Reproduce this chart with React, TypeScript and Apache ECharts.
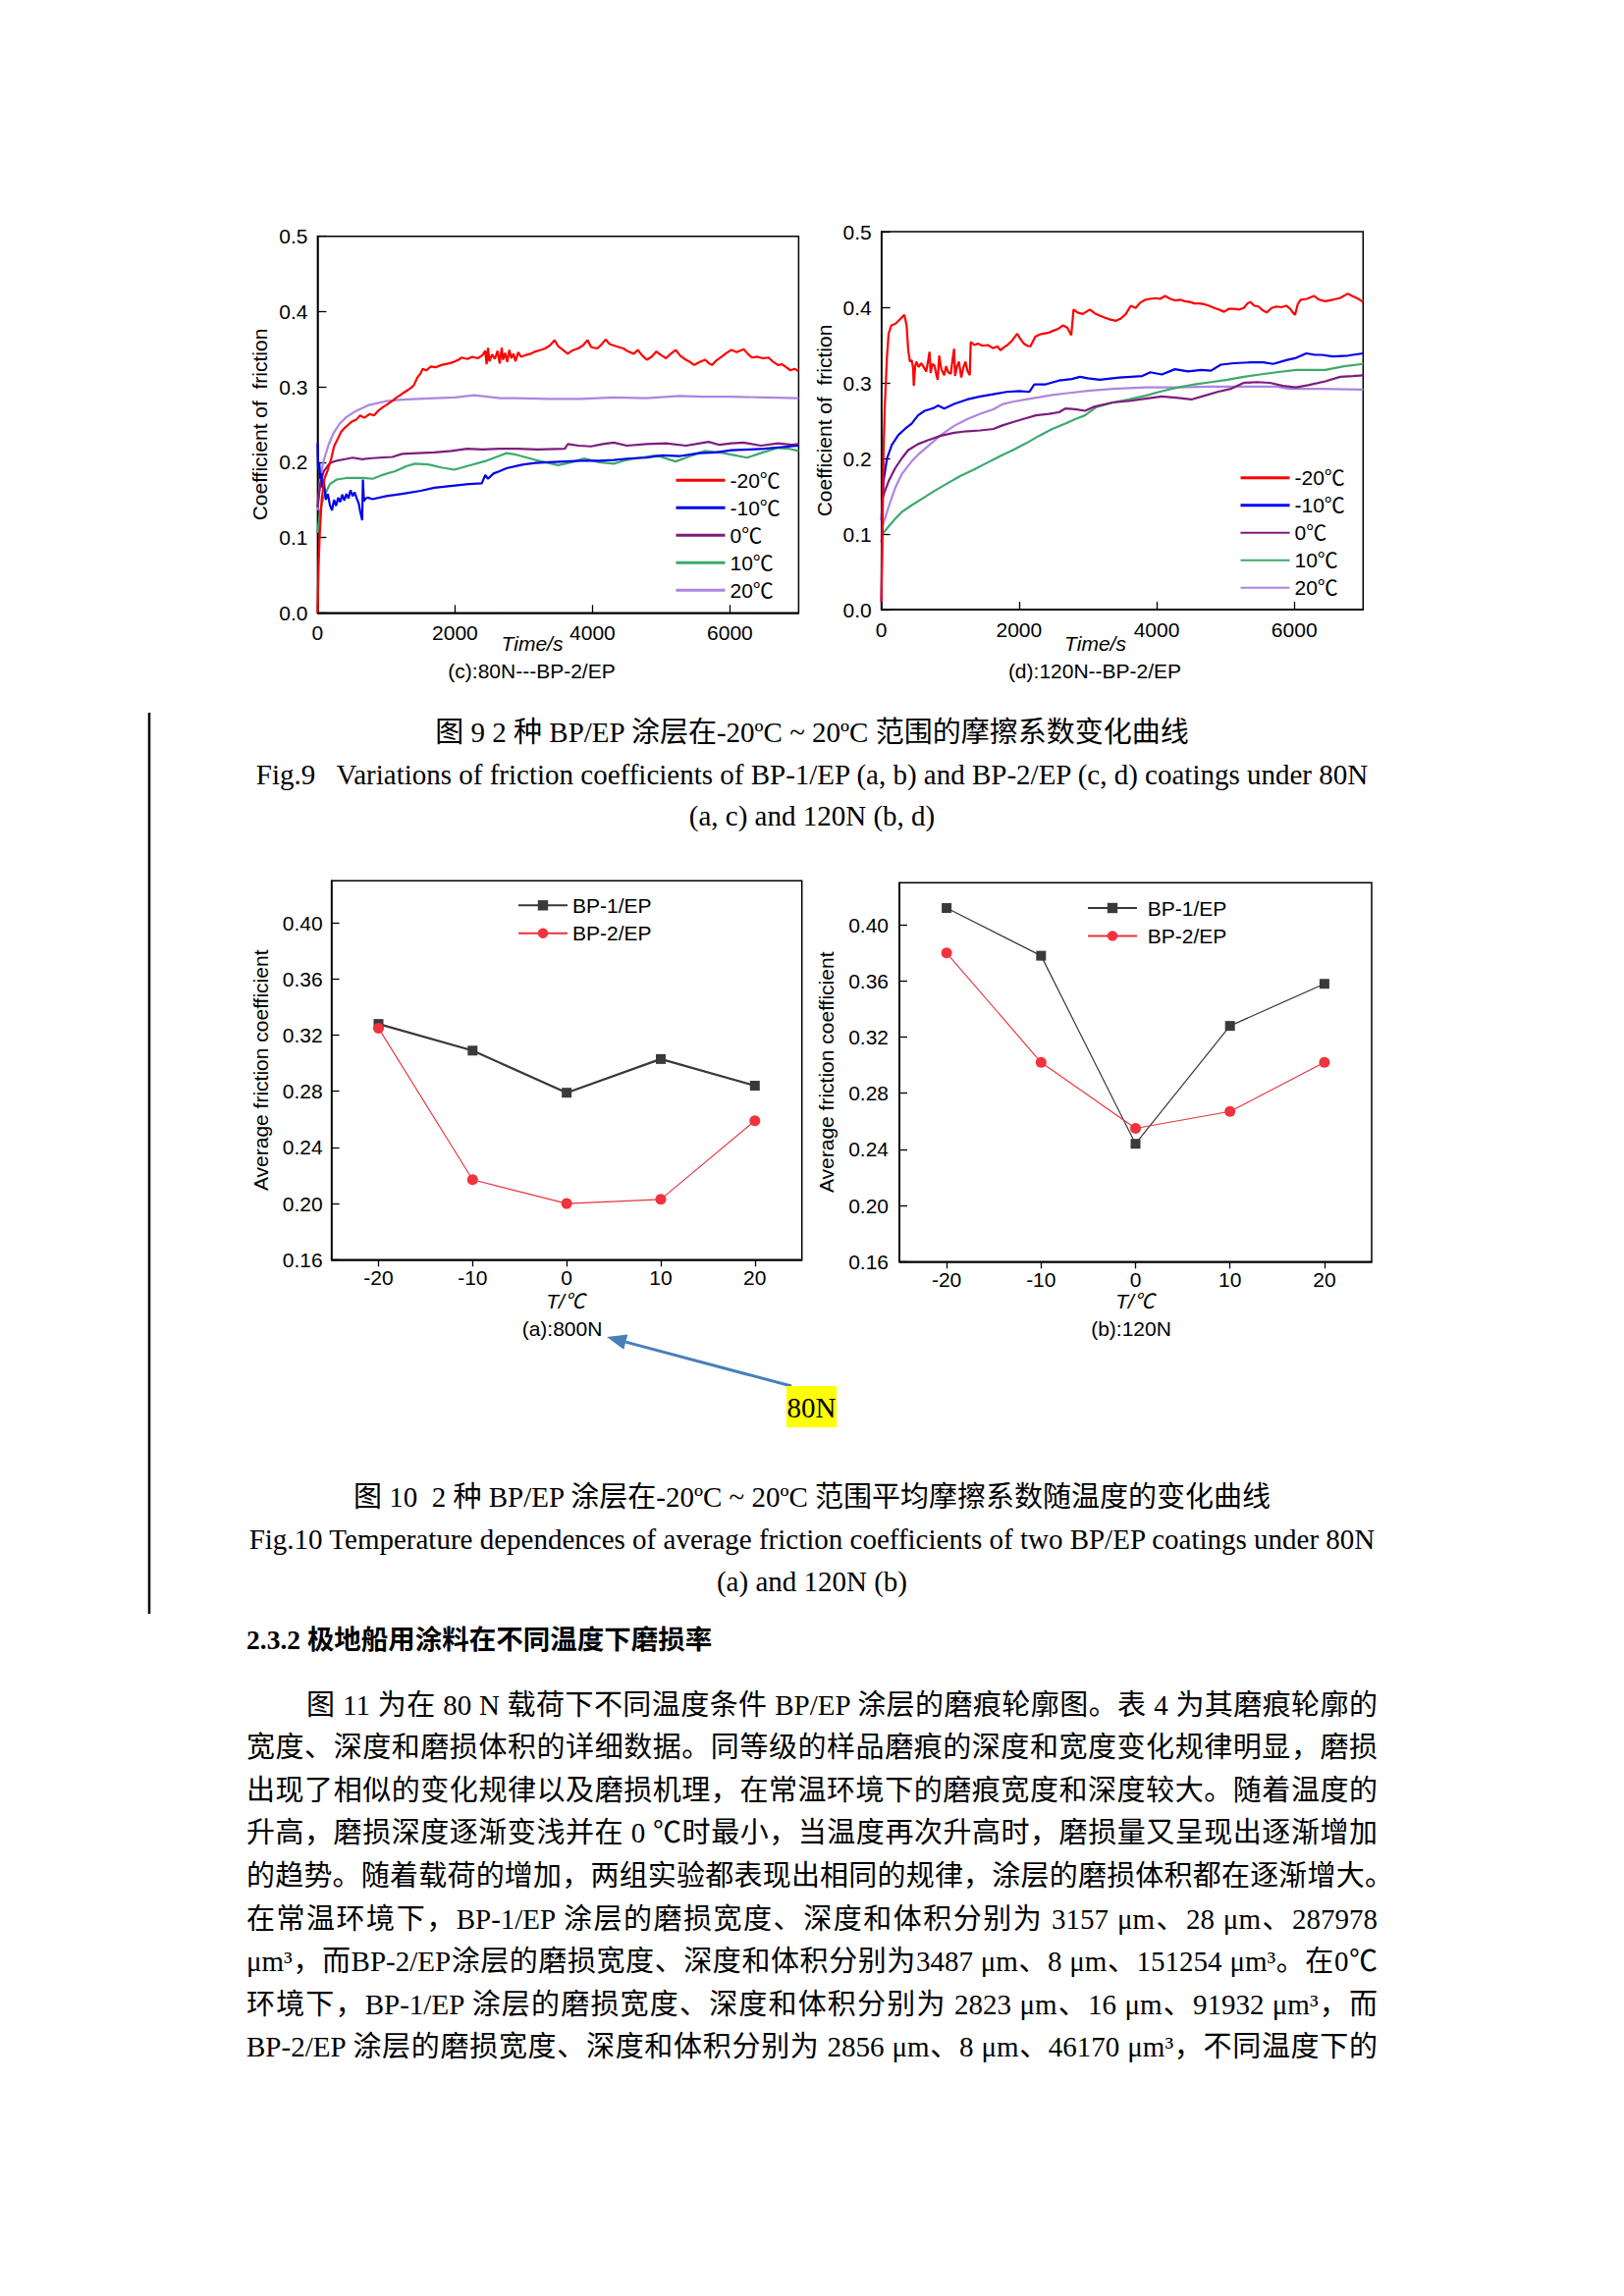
import React, { useEffect, useRef } from "react";
import * as echarts from "echarts";

// ---------------- DATA ----------------
const tempLabels = ["-20℃", "-10℃", "0℃", "10℃", "20℃"];

// (c) 80N BP-2/EP  [time s, coefficient]
const cM20 = [[0,0.0],[15,0.06],[30,0.1],[60,0.15],[100,0.178],[150,0.19],[200,0.205],[240,0.221],[300,0.232],[340,0.24],[400,0.246],[450,0.25],[500,0.254],[570,0.257],[620,0.262],[680,0.259],[760,0.264],[820,0.262],[880,0.268],[950,0.273],[1000,0.276],[1050,0.279],[1100,0.282],[1150,0.286],[1200,0.289],[1250,0.292],[1300,0.295],[1350,0.298],[1400,0.302],[1450,0.312],[1500,0.318],[1530,0.324],[1580,0.322],[1650,0.327],[1720,0.326],[1800,0.329],[1900,0.331],[1980,0.333],[2050,0.336],[2100,0.339],[2180,0.337],[2250,0.34],[2330,0.338],[2400,0.342],[2440,0.348],[2460,0.33],[2480,0.352],[2500,0.334],[2540,0.343],[2580,0.337],[2620,0.348],[2650,0.331],[2680,0.352],[2700,0.336],[2730,0.345],[2760,0.333],[2790,0.349],[2820,0.338],[2850,0.344],[2880,0.334],[2920,0.346],[2960,0.34],[3020,0.342],[3100,0.344],[3170,0.347],[3250,0.349],[3310,0.351],[3380,0.355],[3450,0.362],[3500,0.354],[3560,0.35],[3640,0.344],[3700,0.348],[3790,0.351],[3860,0.355],[3930,0.362],[3980,0.353],[4070,0.351],[4130,0.356],[4190,0.363],[4250,0.357],[4310,0.355],[4380,0.353],[4450,0.351],[4520,0.347],[4600,0.344],[4660,0.349],[4720,0.342],[4790,0.336],[4860,0.34],[4930,0.347],[5000,0.342],[5070,0.338],[5140,0.344],[5210,0.349],[5280,0.341],[5360,0.336],[5420,0.333],[5480,0.329],[5560,0.333],[5640,0.336],[5700,0.331],[5740,0.329],[5800,0.335],[5880,0.34],[5950,0.345],[6020,0.349],[6100,0.346],[6200,0.35],[6260,0.344],[6320,0.339],[6400,0.34],[6480,0.338],[6560,0.339],[6620,0.334],[6700,0.329],[6760,0.33],[6820,0.326],[6880,0.322],[6940,0.324],[7000,0.321]];
const cM10 = [[0,0.225],[10,0.19],[25,0.2],[40,0.178],[55,0.185],[70,0.166],[95,0.172],[120,0.15],[150,0.158],[180,0.143],[210,0.136],[240,0.15],[270,0.142],[300,0.153],[330,0.147],[360,0.157],[390,0.149],[420,0.158],[450,0.152],[480,0.163],[510,0.155],[540,0.16],[570,0.152],[600,0.145],[620,0.135],[650,0.123],[660,0.177],[675,0.148],[700,0.152],[730,0.153],[800,0.151],[1000,0.155],[1230,0.158],[1500,0.162],[1700,0.166],[2000,0.169],[2200,0.171],[2390,0.172],[2440,0.183],[2480,0.178],[2560,0.185],[2650,0.188],[2750,0.192],[2900,0.195],[3000,0.197],[3170,0.199],[3360,0.2],[3600,0.201],[3830,0.202],[4100,0.202],[4310,0.203],[4550,0.205],[4780,0.206],[5020,0.209],[5260,0.208],[5550,0.212],[5800,0.213],[6020,0.216],[6300,0.217],[6500,0.218],[6750,0.22],[7000,0.222]];
const c0 = [[0,0.14],[40,0.171],[90,0.188],[180,0.199],[280,0.202],[400,0.204],[510,0.206],[650,0.204],[750,0.205],[900,0.206],[1090,0.207],[1230,0.211],[1450,0.212],[1700,0.213],[1950,0.215],[2180,0.218],[2400,0.217],[2650,0.218],[2900,0.218],[3200,0.217],[3600,0.218],[3640,0.224],[3800,0.222],[3980,0.221],[4150,0.224],[4310,0.226],[4500,0.222],[4780,0.224],[5070,0.225],[5360,0.222],[5500,0.224],[5690,0.227],[5850,0.223],[6020,0.225],[6200,0.226],[6450,0.222],[6700,0.225],[6900,0.223],[7000,0.224]];
const c10 = [[0,0.106],[40,0.136],[85,0.153],[180,0.171],[280,0.177],[420,0.179],[660,0.179],[800,0.178],[940,0.183],[1130,0.188],[1300,0.195],[1420,0.198],[1610,0.197],[1800,0.193],[1990,0.19],[2180,0.195],[2460,0.202],[2750,0.212],[2890,0.21],[3170,0.203],[3500,0.196],[3700,0.2],[3880,0.205],[4100,0.2],[4310,0.198],[4500,0.203],[4690,0.206],[4930,0.209],[5210,0.201],[5420,0.208],[5640,0.215],[5850,0.213],[6020,0.21],[6250,0.206],[6480,0.213],[6700,0.219],[6850,0.218],[7000,0.215]];
const c20 = [[0,0.136],[40,0.179],[85,0.201],[160,0.223],[230,0.238],[320,0.251],[420,0.26],[560,0.268],[750,0.276],[990,0.281],[1230,0.283],[1700,0.285],[2000,0.286],[2280,0.289],[2660,0.285],[2880,0.285],[3360,0.284],[3830,0.284],[4310,0.286],[4780,0.285],[5260,0.288],[5600,0.287],[6020,0.287],[6500,0.286],[7000,0.285]];

// (d) 120N BP-2/EP
const dM20 = [[0,0.01],[15,0.1],[30,0.205],[47,0.265],[81,0.335],[105,0.365],[143,0.376],[200,0.378],[270,0.384],[333,0.39],[366,0.376],[390,0.343],[414,0.328],[440,0.33],[461,0.319],[470,0.296],[490,0.322],[509,0.328],[540,0.321],[580,0.326],[620,0.32],[651,0.315],[680,0.33],[699,0.341],[715,0.313],[740,0.325],[770,0.323],[800,0.31],[818,0.304],[840,0.336],[870,0.318],[913,0.31],[940,0.322],[970,0.314],[1008,0.312],[1030,0.328],[1056,0.345],[1070,0.309],[1100,0.322],[1127,0.328],[1160,0.307],[1190,0.32],[1222,0.328],[1250,0.316],[1284,0.31],[1298,0.354],[1350,0.35],[1403,0.352],[1470,0.349],[1546,0.35],[1620,0.346],[1688,0.348],[1730,0.343],[1780,0.347],[1831,0.35],[1900,0.356],[1974,0.365],[2020,0.358],[2069,0.352],[2120,0.349],[2164,0.348],[2236,0.361],[2300,0.364],[2354,0.365],[2420,0.366],[2497,0.369],[2560,0.371],[2640,0.376],[2700,0.373],[2759,0.363],[2792,0.397],[2850,0.393],[2925,0.391],[3029,0.397],[3100,0.392],[3171,0.389],[3250,0.386],[3314,0.384],[3409,0.382],[3480,0.385],[3552,0.391],[3623,0.402],[3694,0.399],[3760,0.406],[3837,0.41],[3900,0.411],[3980,0.412],[4050,0.411],[4123,0.415],[4200,0.411],[4266,0.409],[4340,0.41],[4408,0.408],[4480,0.407],[4551,0.405],[4620,0.405],[4694,0.404],[4760,0.402],[4837,0.399],[4900,0.397],[4980,0.394],[5050,0.398],[5122,0.398],[5200,0.397],[5265,0.399],[5320,0.405],[5360,0.407],[5420,0.402],[5479,0.401],[5540,0.396],[5598,0.393],[5670,0.399],[5741,0.401],[5810,0.4],[5884,0.402],[5940,0.398],[5979,0.393],[6011,0.39],[6050,0.404],[6093,0.41],[6180,0.411],[6285,0.415],[6360,0.41],[6449,0.408],[6559,0.41],[6660,0.412],[6778,0.418],[6840,0.415],[6888,0.413],[6950,0.41],[7000,0.407]];
const dM10 = [[0,0.01],[10,0.127],[30,0.17],[81,0.2],[152,0.218],[247,0.231],[342,0.239],[438,0.246],[533,0.257],[628,0.263],[700,0.265],[770,0.267],[820,0.27],[913,0.266],[1056,0.272],[1246,0.278],[1436,0.282],[1626,0.285],[1817,0.288],[2007,0.289],[2150,0.288],[2221,0.298],[2388,0.298],[2578,0.303],[2768,0.305],[2886,0.308],[3000,0.306],[3171,0.304],[3456,0.307],[3790,0.309],[3908,0.314],[4075,0.311],[4266,0.318],[4456,0.315],[4646,0.317],[4789,0.316],[4932,0.324],[5122,0.326],[5360,0.327],[5550,0.327],[5693,0.325],[5884,0.33],[6027,0.333],[6175,0.339],[6300,0.337],[6395,0.337],[6559,0.335],[6778,0.336],[7000,0.339]];
const d0 = [[0,0.118],[15,0.148],[105,0.17],[200,0.187],[295,0.2],[390,0.211],[533,0.219],[675,0.224],[865,0.23],[1056,0.234],[1246,0.236],[1436,0.237],[1626,0.239],[1769,0.244],[1912,0.248],[2055,0.252],[2245,0.257],[2435,0.259],[2578,0.261],[2673,0.266],[2816,0.265],[2958,0.263],[3076,0.268],[3362,0.274],[3599,0.276],[3837,0.279],[4075,0.282],[4313,0.28],[4503,0.278],[4694,0.283],[4884,0.288],[5074,0.292],[5265,0.3],[5455,0.301],[5646,0.3],[5836,0.296],[6027,0.294],[6200,0.297],[6449,0.302],[6668,0.308],[6850,0.309],[7000,0.31]];
const d10 = [[0,0.088],[15,0.1],[105,0.11],[200,0.12],[295,0.129],[438,0.138],[580,0.146],[770,0.157],[960,0.167],[1151,0.177],[1341,0.185],[1531,0.194],[1722,0.203],[1912,0.211],[2102,0.22],[2293,0.23],[2483,0.239],[2673,0.246],[2816,0.252],[2958,0.257],[3124,0.268],[3362,0.274],[3599,0.278],[3837,0.283],[4075,0.289],[4313,0.294],[4551,0.298],[4789,0.301],[5027,0.304],[5265,0.308],[5503,0.311],[5741,0.314],[6027,0.317],[6449,0.317],[6723,0.322],[7000,0.325]];
const d20 = [[0,0.09],[15,0.11],[105,0.136],[200,0.161],[295,0.179],[438,0.196],[533,0.205],[675,0.216],[865,0.231],[1056,0.243],[1246,0.252],[1436,0.259],[1626,0.265],[1769,0.272],[1912,0.275],[2102,0.278],[2293,0.281],[2483,0.284],[2673,0.286],[2958,0.289],[3362,0.292],[3837,0.294],[4313,0.294],[4789,0.295],[5265,0.295],[5741,0.295],[5931,0.292],[6400,0.292],[7000,0.291]];

// Fig.10 average friction coefficients
const temps = [-20, -10, 0, 10, 20];
const a80BP1 = [0.328, 0.309, 0.279, 0.303, 0.284];
const a80BP2 = [0.325, 0.217, 0.200, 0.203, 0.259];
const b120BP1 = [0.412, 0.378, 0.244, 0.328, 0.358];
const b120BP2 = [0.380, 0.302, 0.255, 0.267, 0.302];
const coatingNames = ["BP-1/EP", "BP-2/EP"];

const timeTicks = [0, 2000, 4000, 6000];
const tempTicks = [-20, -10, 0, 10, 20];
const avgTicks = [0.16, 0.2, 0.24, 0.28, 0.32, 0.36, 0.4];

// ---------------- TEXT ----------------
const fig9Caption = [
  "图 9 2 种 BP/EP 涂层在-20ºC ~ 20ºC 范围的摩擦系数变化曲线",
  "Fig.9   Variations of friction coefficients of BP-1/EP (a, b) and BP-2/EP (c, d) coatings under 80N",
  "(a, c) and 120N (b, d)",
];
const fig10Caption = [
  "图 10  2 种 BP/EP 涂层在-20ºC ~ 20ºC 范围平均摩擦系数随温度的变化曲线",
  "Fig.10 Temperature dependences of average friction coefficients of two BP/EP coatings under 80N",
  "(a) and 120N (b)",
];
const heading = "2.3.2 极地船用涂料在不同温度下磨损率";
const bodyLines = [
  "图 11 为在 80 N 载荷下不同温度条件 BP/EP 涂层的磨痕轮廓图。表 4 为其磨痕轮廓的",
  "宽度、深度和磨损体积的详细数据。同等级的样品磨痕的深度和宽度变化规律明显，磨损",
  "出现了相似的变化规律以及磨损机理，在常温环境下的磨痕宽度和深度较大。随着温度的",
  "升高，磨损深度逐渐变浅并在 0 ℃时最小，当温度再次升高时，磨损量又呈现出逐渐增加",
  "的趋势。随着载荷的增加，两组实验都表现出相同的规律，涂层的磨损体积都在逐渐增大。",
  "在常温环境下，BP-1/EP 涂层的磨损宽度、深度和体积分别为 3157 μm、28 μm、287978",
  "μm³，而BP-2/EP涂层的磨损宽度、深度和体积分别为3487 μm、8 μm、151254 μm³。在0℃",
  "环境下，BP-1/EP 涂层的磨损宽度、深度和体积分别为 2823 μm、16 μm、91932 μm³，而",
  "BP-2/EP 涂层的磨损宽度、深度和体积分别为 2856 μm、8 μm、46170 μm³，不同温度下的",
];

// ---------------- STYLE ----------------
const SANS = '"Liberation Sans", Arial, "Noto Sans CJK SC", sans-serif';
const SERIF = '"Liberation Serif", "Times New Roman", "Noto Sans CJK SC", serif';
const tempColors = ["#ff0000", "#0000ee", "#7d1b7e", "#3caa6c", "#ae84e0"];
const FS = 21;

const grids = [
  { left: 323.4, top: 240.7, width: 490, height: 383.6 }, // c
  { left: 897.7, top: 236, width: 490.6, height: 385 }, // d
  { left: 337.6, top: 897.3, width: 479.1, height: 386 }, // a
  { left: 916, top: 899.3, width: 481, height: 386 }, // b
];

function buildOption() {
  const axisLine = { show: true, onZero: false, lineStyle: { color: "#000", width: 1.5 } };
  const label = { color: "#000", fontSize: FS, fontFamily: SANS };
  const xAxis: any[] = [0, 1].map((i) => ({
    type: "value", gridIndex: i, min: 0, max: 7000,
    axisLine, splitLine: { show: false },
    axisTick: { inside: true, length: 8, lineStyle: { color: "#000", width: 1.3 }, customValues: timeTicks },
    axisLabel: { ...label, margin: 10, customValues: timeTicks, formatter: (v: number) => String(v) },
  }));
  const yAxis: any[] = [0, 1].map((i) => ({
    type: "value", gridIndex: i, min: 0, max: 0.5, interval: 0.1,
    axisLine, splitLine: { show: false },
    axisTick: { inside: true, length: 9, lineStyle: { color: "#000", width: 1.3 } },
    axisLabel: { ...label, margin: 10, formatter: (v: number) => v.toFixed(1) },
    name: "Coefficient of  friction", nameLocation: "middle", nameGap: 48, nameRotate: 90,
    nameTextStyle: { color: "#000", fontSize: FS, fontFamily: SANS },
  }));
  [2, 3].forEach((i) => {
    xAxis.push({
      type: "value", gridIndex: i, min: -25, max: 25,
      axisLine, splitLine: { show: false },
      axisTick: { inside: false, length: 7, lineStyle: { color: "#000", width: 1.3 }, customValues: tempTicks },
      axisLabel: { ...label, margin: 8, customValues: tempTicks, formatter: (v: number) => String(v) },
    });
    yAxis.push({
      type: "value", gridIndex: i, min: 0.16, max: 0.43,
      axisLine, splitLine: { show: false },
      axisTick: { inside: true, length: 8, lineStyle: { color: "#000", width: 1.3 }, customValues: avgTicks },
      axisLabel: { ...label, margin: i === 2 ? 9 : 11, customValues: avgTicks, formatter: (v: number) => v.toFixed(2) },
      name: "Average friction coefficient", nameLocation: "middle", nameGap: i === 2 ? 62 : 64, nameRotate: 90,
      nameTextStyle: { color: "#000", fontSize: FS, fontFamily: SANS },
    });
  });

  const cSets = [cM20, cM10, c0, c10, c20];
  const dSets = [dM20, dM10, d0, d10, d20];
  const series: any[] = [];
  const order = [4, 3, 2, 1, 0];
  order.forEach((k) => {
    series.push({
      type: "line", name: "c|" + tempLabels[k], xAxisIndex: 0, yAxisIndex: 0, data: cSets[k],
      symbol: "none", lineStyle: { color: tempColors[k], width: 2.2 }, itemStyle: { color: tempColors[k] },
    });
  });
  order.forEach((k) => {
    series.push({
      type: "line", name: "d|" + tempLabels[k], xAxisIndex: 1, yAxisIndex: 1, data: dSets[k],
      symbol: "none", lineStyle: { color: tempColors[k], width: 2.2 }, itemStyle: { color: tempColors[k] },
    });
  });
  const pairs = (vals: number[]) => temps.map((t, i) => [t, vals[i]]);
  const avg = [
    { idx: 2, key: "a", sets: [a80BP1, a80BP2], w1: 2.2 },
    { idx: 3, key: "b", sets: [b120BP1, b120BP2], w1: 1.2 },
  ];
  avg.forEach((g) => {
    series.push({
      type: "line", name: g.key + "|" + coatingNames[0], xAxisIndex: g.idx, yAxisIndex: g.idx,
      data: pairs(g.sets[0]), symbol: "rect", symbolSize: 10,
      lineStyle: { color: "#383838", width: g.w1 }, itemStyle: { color: "#3a3a3a" }, z: 3,
    });
    series.push({
      type: "line", name: g.key + "|" + coatingNames[1], xAxisIndex: g.idx, yAxisIndex: g.idx,
      data: pairs(g.sets[1]), symbol: "circle", symbolSize: 11,
      lineStyle: { color: "#e8323c", width: 1.1 }, itemStyle: { color: "#f0333d" }, z: 4,
    });
  });

  const fmt = (n: string) => n.split("|")[1];
  const legTxt = { color: "#000", fontSize: FS, fontFamily: SANS, lineHeight: 21 };
  const tempLegend = (key: string, left: number, top: number, widths: number[]) => ({
    data: tempLabels.map((t, i) => ({ name: key + "|" + t, lineStyle: { width: widths[i] } })),
    orient: "vertical", left, top, itemWidth: 50, itemHeight: 14, itemGap: 7, padding: 0,
    formatter: fmt, textStyle: legTxt, itemStyle: { opacity: 0 }, selectedMode: false,
  });
  const avgLegend = (key: string, left: number, top: number, pre: string) => ({
    data: coatingNames.map((n) => key + "|" + n),
    orient: "vertical", left, top, itemWidth: 50, itemHeight: 13, itemGap: 7.4, padding: 0,
    formatter: (n: string) => pre + fmt(n), textStyle: legTxt, selectedMode: false,
  });

  const txt = (text: string, x: number, y: number, font: string, color = "#000") => ({
    type: "text", silent: true,
    style: { text, x, y, font, fill: color, textAlign: "center", textVerticalAlign: "middle", align: "center", verticalAlign: "middle" },
  });
  const f = `${FS}px ${SANS}`;
  const fi = `italic ${FS}px ${SANS}`;

  // arrow geometry (annotation)
  const tail = [806, 1412];
  const tip = [618, 1362];
  const dx = tip[0] - tail[0], dy = tip[1] - tail[1];
  const len = Math.sqrt(dx * dx + dy * dy);
  const ux = dx / len, uy = dy / len;
  const hl = 20, hw = 8;
  const bx = tip[0] - ux * hl, by = tip[1] - uy * hl;
  const nx = -uy, ny = ux;

  const graphic = [
    txt("(c):80N---BP-2/EP", 541.5, 683, f),
    txt("(d):120N--BP-2/EP", 1115, 683, f),
    txt("(a):800N", 572.5, 1353, f),
    txt("(b):120N", 1152, 1353, f),
    txt("Time/s", 542, 655, fi),
    txt("Time/s", 1115.5, 655, fi),
    txt("T/℃", 576, 1325, fi),
    txt("T/℃", 1156, 1325, fi),
    { type: "line", silent: true, shape: { x1: 152, y1: 726, x2: 152, y2: 1644 }, style: { stroke: "#000", lineWidth: 2.5 } },
    { type: "line", silent: true, shape: { x1: tail[0], y1: tail[1], x2: bx, y2: by }, style: { stroke: "#4a7ebb", lineWidth: 3 } },
    { type: "polygon", silent: true, shape: { points: [[tip[0], tip[1]], [bx + nx * hw, by + ny * hw], [bx - nx * hw, by - ny * hw]] }, style: { fill: "#4a7ebb" } },
    { type: "rect", silent: true, shape: { x: 801, y: 1412, width: 51, height: 42 }, style: { fill: "#ffff00" } },
    txt("80N", 826.5, 1434, `29px ${SERIF}`),
  ];

  return {
    animation: false,
    backgroundColor: "#fff",
    grid: grids.map((g) => ({ ...g, show: true, borderColor: "#000", borderWidth: 1.5, containLabel: false })),
    xAxis, yAxis, series,
    legend: [
      tempLegend("c", 687, 478.8, [3, 3, 3, 3, 3]),
      tempLegend("d", 1262, 476.2, [3, 3, 2, 2, 2]),
      avgLegend("a", 527, 911.8, ""),
      avgLegend("b", 1107, 914.5, " "),
    ],
    graphic,
  };
}

const lineBox = (top: number, extra: any = {}) => ({
  position: "absolute" as const, top: top - 21.5, height: 43, lineHeight: "43px",
  fontFamily: SERIF, fontSize: 29, color: "#000", whiteSpace: "pre" as const, ...extra,
});

export default function App() {
  const ref = useRef<HTMLDivElement>(null);
  useEffect(() => {
    const chart = echarts.init(ref.current!, null, { renderer: "svg", width: 1654, height: 2339 });
    chart.setOption(buildOption() as any);
    return () => chart.dispose();
  }, []);
  const fig9Y = [746, 789, 831];
  const fig10Y = [1525, 1568, 1611];
  return (
    <div style={{ position: "absolute", left: 0, top: 0, width: 1654, height: 2339, background: "#fff", overflow: "hidden" }}>
      <div ref={ref} style={{ position: "absolute", left: 0, top: 0, width: 1654, height: 2339 }} />
      {fig9Caption.map((t, i) => (
        <div key={"f9" + i} style={lineBox(fig9Y[i], { left: 0, width: 1654, textAlign: "center" })}>{t}</div>
      ))}
      {fig10Caption.map((t, i) => (
        <div key={"f10" + i} style={lineBox(fig10Y[i], { left: 0, width: 1654, textAlign: "center" })}>{t}</div>
      ))}
      <div style={lineBox(1670, { left: 251, fontWeight: "bold", fontSize: 27.5 })}>{heading}</div>
      {bodyLines.map((t, i) => {
        const first = i === 0;
        const left = first ? 312 : 251;
        const width = i === 4 ? 1168 : 1403 - left;
        return (
          <div key={"b" + i} style={lineBox(1737 + i * 43.6, {
            left, width, whiteSpace: "normal", textAlign: "justify", textAlignLast: "justify", overflow: "visible",
          })}>{t}</div>
        );
      })}
    </div>
  );
}
